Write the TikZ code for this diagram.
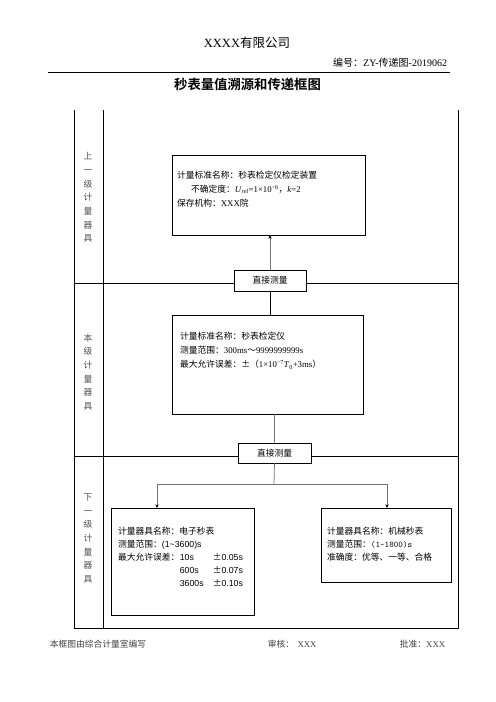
\documentclass[tikz,border=0pt]{standalone}
\usepackage{fontspec}
\setmainfont{Liberation Serif}
\setsansfont{Liberation Sans}
\newfontfamily\cjkfont{Noto Sans CJK SC}[BoldFont={Noto Sans CJK SC Bold}]
\newcommand{\zh}[1]{{\cjkfont #1}}
\usetikzlibrary{arrows.meta,positioning}

\tikzset{
	frame/.style={line width=0.9pt},
	box/.style={draw, line width=0.9pt, fill=white, inner sep=0pt, outer sep=0pt},
	txt/.style={anchor=west, inner sep=0pt, align=left, font=\fontsize{10.5}{16.8}\selectfont},
	txtsm/.style={anchor=west, inner sep=0pt, font=\fontsize{10.5}{15.6}\selectfont},
	lbl/.style={align=center, inner sep=0pt, text=black!70, font=\cjkfont\fontsize{10.5}{16.4}\selectfont},
	gline/.style={draw=black!55, line width=0.9pt},
	arr/.style={gline, -{Stealth[black, length=4.5pt, width=4pt]}},
}

\begin{document}
\begin{tikzpicture}[x=1.2pt, y=-1.2pt]
	\useasboundingbox (0,0) rectangle (496,702);
	% header
	\node (company) at (247,43) [font=\fontsize{15}{18}\selectfont] {XXXX\zh{有限公司}};
	\node (docno) at (450,63) [anchor=east, font=\fontsize{12}{14}\selectfont] {\zh{编号：}ZY-\zh{传递图}-2019062};
	\draw[line width=1pt] (48,72) -- (450,72);
	\node (title) at (247.5,84) [font=\cjkfont\bfseries\fontsize{16}{19}\selectfont] {秒表量值溯源和传递框图};

	% table frame
	\draw[frame] (74,110) -- (74,628) -- (458,628) -- (458,110);
	\draw[frame] (103,110) -- (103,628);
	\draw[frame] (74,283) -- (458,283);
	\draw[frame] (74,456) -- (458,456);

	\node (lvlup) at (88,197.5) [lbl] {上\\一\\级\\计\\量\\器\\具};
	\node (lvlcur) at (88,372) [lbl] {本\\级\\计\\量\\器\\具};
	\node (lvldown) at (88,538.5) [lbl] {下\\一\\级\\计\\量\\器\\具};

	% boxes
	\node (upbox) at (268.5,195) [box, minimum width=231.6pt, minimum height=96pt] {};
	\node (stdbox) at (267.5,364.5) [box, minimum width=229.2pt, minimum height=118.8pt] {};
	\node (elecbox) at (182.5,561.5) [box, minimum width=171.6pt, minimum height=128.4pt] {};
	\node (mechbox) at (386,545) [box, minimum width=156pt, minimum height=88.8pt] {};
	\node (meas1) at (270,280.5) [box, font=\cjkfont\fontsize{10.5}{12}\selectfont, minimum width=86.4pt, minimum height=25.2pt] {直接测量};
	\node (meas2) at (274.5,453) [box, font=\cjkfont\fontsize{10.5}{12}\selectfont, minimum width=87.6pt, minimum height=24pt] {直接测量};

	% box texts
	\node (uptext) at (177,189) [txt] {\zh{计量标准名称：秒表检定仪检定装置}\\
		\hspace*{1.6em}\zh{不确定度：}\textit{U}\textsubscript{\textit{rel}}=1×10\textsuperscript{−6}\zh{，}\textit{k}=2\\
		\zh{保存机构：}XXX\zh{院}};
	\node (stdtext) at (180,351) [txt] {\zh{计量标准名称：秒表检定仪}\\
		\zh{测量范围：}300ms\zh{～}9999999999s\\
		\zh{最大允许误差：±（}1×10\textsuperscript{−7}\textit{T}\textsubscript{0}+3ms\zh{）}};
	\node (electext) at (118,558) [txtsm] {%
		\begin{tabular}{@{}p{74pt}@{}p{39.6pt}@{}l@{}}
		\multicolumn{3}{@{}l@{}}{\zh{计量器具名称：电子秒表}}\\
		\multicolumn{3}{@{}l@{}}{\zh{测量范围：}\textsf{(1\textasciitilde3600)s}}\\
		\zh{最大允许误差：} & \textsf{10s} & \zh{±}\textsf{0.05s}\\
		 & \textsf{600s} & \zh{±}\textsf{0.07s}\\
		 & \textsf{3600s} & \zh{±}\textsf{0.10s}
		\end{tabular}};
	\node (mechtext) at (327,544.5) [txtsm, align=left] {\zh{计量器具名称：机械秒表}\\
		\zh{测量范围：}\texttt{(1\textasciitilde1800)s}\\
		\zh{准确度：优等、一等、合格}};

	% connectors
	\draw[arr] (meas1.north) -- (meas1.north |- upbox.south);
	\draw[line width=0.9pt] (meas1.south) -- (meas1.south |- stdbox.north);
	\draw[gline] (meas2.north |- stdbox.south) -- (meas2.north);
	\coordinate (fork) at (274,484);
	\coordinate (lfork) at (157,484);
	\coordinate (rfork) at (387,484);
	\draw[gline] (meas2.south) -- (fork);
	\draw[arr] (fork) -- (lfork) -- (lfork |- elecbox.north);
	\draw[arr] (fork) -- (rfork) -- (rfork |- mechbox.north);

	% footer
	\node (author) at (47,644) [anchor=west, font=\fontsize{10.5}{12}\selectfont, text=black!75] {\zh{本框图由综合计量室编写}};
	\node (check) at (265,644) [anchor=west, font=\fontsize{10.5}{12}\selectfont, text=black!75] {\zh{审核：}\hspace{4pt}XXX};
	\node (approve) at (397,644) [anchor=west, font=\fontsize{10.5}{12}\selectfont, text=black!75] {\zh{批准：}XXX};
\end{tikzpicture}
\end{document}
